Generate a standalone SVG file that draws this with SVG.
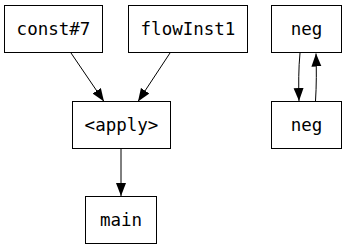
<svg xmlns="http://www.w3.org/2000/svg" width="349" height="251" viewBox="0 0 349 251">
  <style>
    .box { fill: #ffffff; stroke: #000000; stroke-width: 1; }
    .lbl { font-family: "DejaVu Sans Mono", "Liberation Mono", monospace; font-size: 17.5px; text-anchor: middle; fill: #000000; }
    .edge { fill: none; stroke: #000000; stroke-width: 1; marker-end: url(#arrow); }
  </style>
  <defs>
    <marker id="arrow" markerUnits="userSpaceOnUse" markerWidth="14" markerHeight="11" refX="13" refY="5" orient="auto">
      <path d="M0,0 L13,5 L0,10 Z" fill="#000000"/>
    </marker>
  </defs>
  <rect width="349" height="251" fill="#ffffff"/>

  <g id="edges">
    <path class="edge" d="M71,53 L104,101.5"/>
    <path class="edge" d="M170,53 L138,101.5"/>
    <path class="edge" d="M121,149 L121,196"/>
    <path class="edge" d="M300,53 C298.5,68 298.5,85 299,101"/>
    <path class="edge" d="M315.5,101 C316.5,86 316.5,69 316,53.5"/>
  </g>

  <g id="const7">
    <rect class="box" x="4.5" y="5.5" width="98" height="47"/>
    <text class="lbl" x="53.5" y="35">const#7</text>
  </g>
  <g id="flowInst1">
    <rect class="box" x="128.5" y="5.5" width="119" height="47"/>
    <text class="lbl" x="188" y="35">flowInst1</text>
  </g>
  <g id="negTop">
    <rect class="box" x="271.5" y="5.5" width="70" height="47"/>
    <text class="lbl" x="306.5" y="35">neg</text>
  </g>
  <g id="apply">
    <rect class="box" x="72.5" y="101.5" width="98" height="47"/>
    <text class="lbl" x="121.5" y="131">&lt;apply&gt;</text>
  </g>
  <g id="negBottom">
    <rect class="box" x="271.5" y="101.5" width="70" height="47"/>
    <text class="lbl" x="306.5" y="131">neg</text>
  </g>
  <g id="main">
    <rect class="box" x="85.5" y="196.5" width="71" height="47"/>
    <text class="lbl" x="121" y="226">main</text>
  </g>
</svg>
